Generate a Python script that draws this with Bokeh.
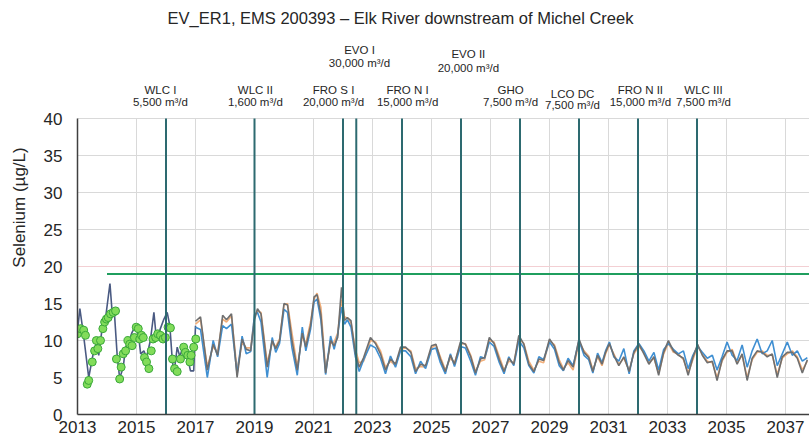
from bokeh.plotting import figure
from bokeh.models import Range1d, FixedTicker, Span
from bokeh.core.properties import value
from bokeh.embed import file_html
from bokeh.resources import INLINE

# ---------------- data ----------------
title_text = "EV_ER1, EMS 200393 \u2013 Elk River downstream of Michel Creek"
y_label = "Selenium (\u00b5g/L)"
year_ticks = [2013, 2015, 2017, 2019, 2021, 2023, 2025, 2027, 2029, 2031, 2033, 2035, 2037]
value_ticks = [0, 5, 10, 15, 20, 25, 30, 35, 40]

# observed selenium (green points)
obs_years = [2013.0, 2013.10, 2013.21, 2013.27, 2013.33, 2013.38, 2013.50, 2013.58, 2013.64, 2013.69,
             2013.78, 2013.86, 2013.92, 2013.98, 2014.04, 2014.12, 2014.21, 2014.29, 2014.32, 2014.43,
             2014.48, 2014.55, 2014.63, 2014.71, 2014.77, 2014.85, 2014.93, 2014.99, 2015.06, 2015.11,
             2015.17, 2015.23, 2015.27, 2015.34, 2015.42, 2015.50, 2015.56, 2015.65, 2015.72, 2015.81,
             2015.90, 2015.98, 2016.07, 2016.15, 2016.22, 2016.29, 2016.38, 2016.49, 2016.60, 2016.66,
             2016.74, 2016.81, 2016.85, 2016.94, 2017.01]
obs_values = [10.9, 11.6, 11.4, 10.7, 4.1, 4.6, 7.1, 8.6, 10.0, 8.9,
              10.0, 11.6, 12.5, 12.9, 13.1, 13.6, 13.8, 14.0, 7.5, 4.8,
              6.4, 8.2, 8.6, 10.0, 9.5, 9.3, 10.4, 11.8, 11.6, 10.2,
              10.7, 10.4, 7.7, 7.1, 6.2, 8.6, 10.2, 10.4, 10.9, 10.7,
              10.2, 10.4, 11.8, 11.7, 7.5, 6.2, 5.8, 7.5, 9.1, 8.4,
              8.0, 7.1, 8.0, 9.1, 10.2]

# modelled history (dark line)
hist_years = [2013.0, 2013.08, 2013.2, 2013.38, 2013.55, 2013.67, 2013.72, 2013.84, 2013.95, 2014.1,
              2014.17, 2014.25, 2014.35, 2014.43, 2014.55, 2014.63, 2014.75, 2014.85, 2014.97, 2015.08,
              2015.14, 2015.25, 2015.34, 2015.47, 2015.59, 2015.67, 2015.79, 2015.93, 2016.04, 2016.13,
              2016.21, 2016.27, 2016.38, 2016.47, 2016.55, 2016.7, 2016.83, 2016.94, 2017.0]
hist_values = [11.3, 14.3, 10.9, 5.0, 8.6, 10.0, 8.0, 11.8, 13.0, 17.7,
               14.0, 13.8, 7.7, 4.9, 6.4, 9.1, 10.0, 11.1, 12.0, 10.4,
               8.2, 8.6, 7.7, 10.0, 13.8, 10.4, 11.4, 12.9, 13.8, 12.0,
               7.5, 5.5, 9.1, 7.8, 8.9, 8.2, 5.9, 5.9, 12.0]

# projections
proj_years = [
    2017.0, 2017.17, 2017.4, 2017.6, 2017.75, 2017.92,
    2018.05, 2018.22, 2018.41, 2018.58, 2018.72, 2018.87,
    2019.0, 2019.1, 2019.22, 2019.43, 2019.6, 2019.72, 2019.85,
    2020.0, 2020.12, 2020.27, 2020.45, 2020.62, 2020.74, 2020.9,
    2021.02, 2021.12, 2021.25, 2021.41, 2021.58, 2021.7, 2021.82, 2021.95,
    2022.05, 2022.15, 2022.27, 2022.42, 2022.55, 2022.7, 2022.93,
    2023.1, 2023.27, 2023.44, 2023.61, 2023.78, 2023.95,
    2024.12, 2024.3, 2024.46, 2024.63, 2024.8,
    2025.0, 2025.15, 2025.3, 2025.47, 2025.64, 2025.78,
    2025.98, 2026.15, 2026.33, 2026.49, 2026.66, 2026.8,
    2026.96, 2027.12, 2027.3, 2027.46, 2027.62, 2027.79,
    2027.96, 2028.13, 2028.3, 2028.47, 2028.64, 2028.8,
    2029.0, 2029.17, 2029.33, 2029.47, 2029.63, 2029.8,
    2030.0, 2030.17, 2030.33, 2030.47, 2030.63, 2030.78, 2030.9,
    2031.03, 2031.18, 2031.35, 2031.52, 2031.7, 2031.86,
    2032.03, 2032.2, 2032.37, 2032.54, 2032.7, 2032.87,
    2033.03, 2033.2, 2033.37, 2033.54, 2033.7, 2033.86,
    2034.02, 2034.18, 2034.35, 2034.52, 2034.68, 2034.85,
    2035.02, 2035.19, 2035.36, 2035.53, 2035.7, 2035.87,
    2036.04, 2036.21, 2036.38, 2036.55, 2036.72, 2036.89,
    2037.06, 2037.23, 2037.4, 2037.57, 2037.74,
]
proj_gray = [
    12.6, 13.2, 6.0, 9.5, 8.0, 13.4,
    12.8, 13.6, 5.0, 10.2, 8.8, 8.6,
    12.8, 14.3, 13.6, 6.4, 10.0, 8.9, 10.0,
    15.0, 14.8, 10.0, 6.0, 11.0, 9.1, 12.0,
    15.9, 16.2, 13.5, 5.6, 10.0, 9.3, 10.4, 17.2,
    12.7, 13.1, 12.7, 8.2, 6.4, 7.7, 10.4,
    9.6, 8.2, 6.0, 7.5, 6.8, 9.1,
    9.1, 8.4, 5.8, 6.8, 6.6,
    9.3, 9.5, 7.5, 5.8, 8.0, 6.8,
    9.8, 9.5, 7.8, 5.6, 7.5, 7.7,
    10.4, 9.6, 7.4, 5.8, 7.6, 6.8,
    10.7, 9.5, 6.8, 5.8, 7.5, 7.3,
    10.2, 9.2, 7.0, 6.0, 7.3, 6.4,
    10.2, 8.4, 7.7, 5.8, 8.0, 6.8, 8.4,
    9.6, 8.0, 6.6, 7.8, 5.8, 8.4,
    9.5, 8.2, 6.8, 7.8, 5.3, 8.4,
    10.0, 8.6, 8.0, 7.6, 5.3, 7.7,
    9.5, 8.0, 7.0, 7.2, 4.6, 7.4,
    8.6, 8.6, 6.8, 8.2, 4.6, 7.6,
    8.6, 8.4, 7.8, 8.2, 5.0, 7.8,
    8.4, 8.4, 7.6, 5.6, 7.4,
]
proj_orange = [
    12.2, 12.8, 6.5, 9.2, 8.4, 12.9,
    12.5, 13.3, 6.0, 9.8, 9.0, 9.0,
    13.2, 14.0, 13.8, 7.0, 9.6, 9.2, 10.2,
    14.8, 15.0, 11.0, 6.5, 10.6, 9.6, 12.5,
    15.6, 16.4, 14.5, 6.2, 9.6, 9.8, 11.0, 15.5,
    13.2, 13.0, 12.4, 8.8, 7.0, 7.2, 10.0,
    9.8, 8.6, 6.4, 7.2, 6.6, 8.8,
    9.0, 8.6, 6.2, 6.5, 6.4,
    9.0, 9.4, 7.8, 6.0, 7.6, 7.0,
    9.5, 9.6, 8.0, 5.8, 7.2, 7.4,
    10.0, 9.8, 7.8, 6.0, 7.2, 7.0,
    10.2, 9.6, 7.2, 6.0, 7.2, 7.0,
    10.0, 9.4, 7.4, 6.2, 7.0, 6.0,
    9.8, 8.6, 7.9, 6.0, 7.8, 6.6, 8.2,
    9.4, 8.2, 6.8, 7.6, 6.0, 8.2,
    9.2, 8.4, 7.0, 7.6, 5.6, 8.2,
    9.6, 8.4, 8.2, 7.4, 5.6, 7.4,
    9.2, 8.2, 7.2, 7.0, 5.0, 7.2,
    8.4, 8.8, 7.0, 8.0, 5.0, 7.4,
    8.4, 8.6, 8.0, 8.0, 5.4, 7.6,
    8.2, 8.6, 7.8, 6.0, 7.2,
]
proj_blue = [
    11.8, 11.5, 5.0, 10.0, 7.8, 12.0,
    11.6, 12.2, 5.5, 10.6, 8.2, 8.5,
    13.5, 13.8, 12.5, 5.0, 10.4, 8.4, 9.6,
    14.2, 13.8, 9.0, 5.3, 11.8, 8.6, 11.5,
    15.2, 15.6, 12.8, 5.4, 10.6, 8.8, 10.8, 14.5,
    12.2, 12.8, 11.8, 7.8, 5.8, 7.4, 9.4,
    9.0, 7.6, 5.5, 7.9, 6.4, 8.6,
    8.6, 7.8, 5.5, 7.2, 6.2,
    8.8, 9.0, 7.0, 5.5, 8.2, 6.5,
    9.2, 9.0, 7.2, 5.3, 7.8, 7.6,
    9.8, 9.2, 7.0, 5.5, 7.8, 6.6,
    10.0, 9.0, 6.6, 5.6, 7.8, 7.4,
    9.8, 8.8, 6.6, 5.9, 7.6, 6.6,
    10.0, 8.0, 7.4, 5.6, 8.3, 7.0, 8.6,
    9.8, 7.8, 7.2, 8.9, 5.5, 8.6,
    9.6, 8.6, 7.2, 8.4, 6.0, 8.8,
    9.6, 8.8, 8.2, 8.6, 6.2, 8.0,
    9.2, 8.4, 7.6, 8.0, 6.0, 7.8,
    9.8, 8.0, 7.3, 9.4, 6.4, 8.6,
    10.2, 8.2, 8.6, 10.0, 6.6, 8.2,
    9.8, 8.0, 8.6, 7.2, 7.7,
]

benchmark_value = 19.0
benchmark_start = 2014.0
benchmark_end = 2040.0

# treatment facilities: year online, name, capacity
facility_years = [2016.0, 2019.0, 2022.0, 2022.45, 2024.0, 2026.0, 2028.0, 2030.0, 2032.0, 2034.0]
facility_names = ["WLC I", "WLC II", "FRO S I", "EVO I", "FRO N I", "EVO II", "GHO", "LCO DC", "FRO N II", "WLC III"]
facility_caps = ["5,500 m\u00b3/d", "1,600 m\u00b3/d", "20,000 m\u00b3/d", "30,000 m\u00b3/d", "15,000 m\u00b3/d",
                 "20,000 m\u00b3/d", "7,500 m\u00b3/d", "7,500 m\u00b3/d", "15,000 m\u00b3/d", "7,500 m\u00b3/d"]

assert len(proj_years) == len(proj_gray) == len(proj_orange) == len(proj_blue)
assert len(hist_years) == len(hist_values)
assert len(obs_years) == len(obs_values)

# ---------------- layout (pixels) ----------------
FONT = "Liberation Sans"
FIG_W, FIG_H = 809, 442
BORDER_L, BORDER_B = 77, 28
FRAME_H = FIG_H - BORDER_B           # frame spans fig y 0..FRAME_H
PX_TOP40 = 118                        # fig y of value 40
PX_PER_YEAR = 29.5
units_per_px = value_ticks[-1] / (FRAME_H - PX_TOP40)
y_top = value_ticks[-1] + PX_TOP40 * units_per_px
x_end = year_ticks[0] + (FIG_W - BORDER_L) / PX_PER_YEAR


def y_at(fig_px):
    """data y for a vertical pixel position measured from the top of the figure"""
    return (FRAME_H - fig_px) * units_per_px


# label placement: centre x (years), row pixel positions from figure top
label_x = [2015.81, 2019.03, 2021.68, 2022.56, 2024.19, 2026.25, 2027.68, 2029.78, 2032.08, 2034.22]
label_px1 = [89, 89, 89, 49, 89, 53, 89, 93, 89, 89]
label_px2 = [101, 101, 101, 62, 101, 67, 101, 104, 101, 101]
title_x = 2023.95
title_px = 17

p = figure(width=FIG_W, height=FIG_H,
           x_range=Range1d(year_ticks[0], x_end), y_range=Range1d(0, y_top),
           output_backend="svg", toolbar_location=None,
           min_border_left=BORDER_L, min_border_top=0, min_border_bottom=BORDER_B, min_border_right=0)
p.title.visible = False
p.outline_line_color = None

# axes
p.xaxis.ticker = FixedTicker(ticks=year_ticks)
p.yaxis.ticker = FixedTicker(ticks=value_ticks)
p.yaxis.bounds = (value_ticks[0], value_ticks[-1])
p.ygrid.ticker = FixedTicker(ticks=value_ticks)
for ax in (p.xaxis[0], p.yaxis[0]):
    ax.major_tick_line_color = None
    ax.minor_tick_line_color = None
    ax.major_tick_out = 0
    ax.major_tick_in = 0
    ax.axis_line_color = "#404040"
    ax.axis_line_width = 1.5
    ax.major_label_text_font = FONT
    ax.major_label_text_font_size = "17px"
    ax.major_label_text_color = "#262626"
p.xaxis.major_label_standoff = 6
p.yaxis.major_label_standoff = 15
p.yaxis.axis_label = y_label
p.yaxis.axis_label_text_font = FONT
p.yaxis.axis_label_text_font_size = "17px"
p.yaxis.axis_label_text_font_style = "normal"
p.yaxis.axis_label_text_color = "#262626"
p.yaxis.axis_label_standoff = 12

p.xgrid.visible = False
p.ygrid.grid_line_color = "#d9d9d9"
p.ygrid.grid_line_width = 1

vg = p.segment(x0=year_ticks, y0=[value_ticks[0]] * len(year_ticks),
               x1=year_ticks, y1=[value_ticks[-1]] * len(year_ticks),
               line_color="#d9d9d9", line_width=1)
vg.level = "underlay"
p.add_layout(Span(location=20, dimension="width", line_color="#f3cfd3", line_width=1, level="underlay"))

# lines
p.line(hist_years, hist_values, line_color="#4a5a82", line_width=1.6)
p.line(proj_years, proj_orange, line_color="#f2ae78", line_width=1.6)
p.line(proj_years, proj_blue, line_color="#3f8fd2", line_width=1.6)
p.line(proj_years, proj_gray, line_color="#6f6f6f", line_width=1.6)
p.scatter(obs_years, obs_values, size=8, fill_color="#82dc5a", line_color="#3aa83a", line_width=1)

p.line([benchmark_start, benchmark_end], [benchmark_value, benchmark_value], line_color="#1f9e5e", line_width=2)

p.segment(x0=facility_years, y0=[value_ticks[0]] * len(facility_years),
          x1=facility_years, y1=[value_ticks[-1]] * len(facility_years),
          line_color="#2d6a70", line_width=2)

p.text(x=label_x, y=[y_at(v) for v in label_px1], text=facility_names,
       text_align="center", text_baseline="middle", text_font=value(FONT),
       text_font_size="11.5px", text_color="#262626")
p.text(x=label_x, y=[y_at(v) for v in label_px2], text=facility_caps,
       text_align="center", text_baseline="middle", text_font=value(FONT),
       text_font_size="11.5px", text_color="#262626")
p.text(x=[title_x], y=[y_at(title_px)], text=[title_text],
       text_align="center", text_baseline="middle", text_font=value(FONT),
       text_font_size="16.5px", text_color="#262626")

open("out.html", "w").write(file_html(p, INLINE))
